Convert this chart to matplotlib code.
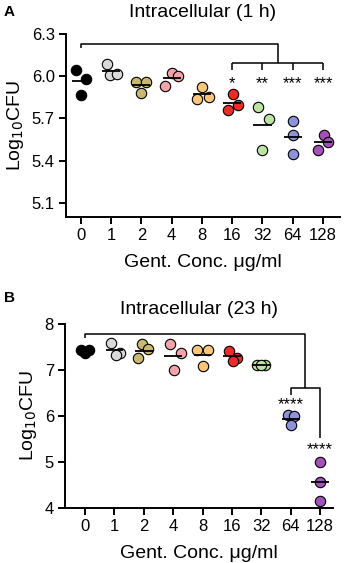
import matplotlib
matplotlib.use("Agg")
import matplotlib.pyplot as plt
import numpy as np

plt.rcParams['font.family'] = ['Liberation Sans', 'DejaVu Sans']

categories = ["0", "1", "2", "4", "8", "16", "32", "64", "128"]
colors = ["#000000", "#d9d9d9", "#c9b872", "#f4a3ab", "#fbc57a",
          "#ee2b2b", "#bce3a2", "#8e92d9", "#a352b8"]

# Panel A: Intracellular (1 h), Log10 CFU, triplicates
a_vals = [
    [6.043, 5.979, 5.867],
    [6.085, 6.007, 6.019],
    [5.962, 5.962, 5.884],
    [6.023, 6.002, 5.931],
    [5.920, 5.839, 5.856],
    [5.877, 5.794, 5.758],
    [5.782, 5.699, 5.474],
    [5.682, 5.580, 5.450],
    [5.585, 5.533, 5.479],
]
a_stars = ["*", "**", "***", "***"]

# Panel B: Intracellular (23 h)
b_vals = [
    [7.42, 7.42, 7.36],
    [7.574, 7.370, 7.320],
    [7.559, 7.443, 7.248],
    [7.559, 7.357, 6.993],
    [7.428, 7.428, 7.087],
    [7.413, 7.261, 7.189],
    [7.10, 7.10, 7.10],
    [6.015, 5.993, 5.798],
    [5.00, 4.55, 4.15],
]
b_stars = ["****", "****"]

# horizontal jitter of dots within each column (layout only)
a_jit = [[-0.16, 0.17, 0.0], [-0.12, -0.05, 0.18], [-0.17, 0.14, 0.0],
         [0.02, 0.2, -0.23], [0.0, -0.15, 0.22], [0.02, 0.18, -0.13],
         [-0.16, 0.2, 0.0], [0.0, 0.0, 0.0], [0.02, 0.18, -0.18]]
b_jit = [[-0.13, 0.13, 0.0], [-0.1, 0.18, 0.06], [-0.06, 0.14, -0.2],
         [-0.12, 0.27, 0.04], [-0.2, 0.2, 0.0], [-0.1, 0.17, 0.02],
         [-0.13, 0.13, 0.0], [-0.1, 0.12, 0.02], [0.0, 0.0, 0.0]]

W, H = 344, 563
fig = plt.figure(figsize=(W / 100, H / 100), dpi=100)


def px_ax(l, r, t, b):
    return fig.add_axes([l / W, 1 - b / H, (r - l) / W, (b - t) / H])


def draw(ax, vals, jit):
    x = np.arange(len(vals))
    for i, (v, j) in enumerate(zip(vals, jit)):
        ax.scatter(i + np.array(j), v, s=56, c=colors[i], edgecolors="black",
                   linewidths=0.8, zorder=3, clip_on=False)
        m = np.mean(v)
        ax.plot([i - 0.3, i + 0.3], [m, m], color="black", lw=1.3, zorder=4,
                solid_capstyle="butt")
    ax.set_xticks(x)
    ax.set_xticklabels(categories)
    for s in ["top", "right"]:
        ax.spines[s].set_visible(False)
    for s in ["left", "bottom"]:
        ax.spines[s].set_linewidth(1.4)
    ax.tick_params(axis="both", width=1.4, length=5, labelsize=12, pad=3,
                   direction="out")
    ax.set_xlabel("Gent. Conc. μg/ml", fontsize=14, labelpad=8)
    ax.set_ylabel("Log$_{10}$CFU", fontsize=14, labelpad=4)


lw_b = 1.1
# ---- Panel A
axA = px_ax(66, 340, 34, 217)
draw(axA, a_vals, a_jit)
axA.set_xlim(-0.49, 8.56)
axA.set_ylim(5.0, 6.3)
axA.set_yticks([5.1, 5.4, 5.7, 6.0, 6.3])
axA.set_yticklabels(["5.1", "5.4", "5.7", "6.0", "6.3"])
axA.spines["left"].set_bounds(5.0, 6.3)
axA.set_title("Intracellular (1 h)", fontsize=14, pad=12)
kw = dict(color="black", lw=lw_b, clip_on=False, solid_capstyle="butt")
axA.plot([0, 0, 6.5, 6.5], [6.197, 6.232, 6.232, 6.097], **kw)
axA.plot([5, 8], [6.097, 6.097], **kw)
for k, s in zip(range(5, 9), a_stars):
    axA.text(k, 5.945, s, ha="center", va="center", fontsize=12)
    axA.plot([k, k], [6.097, 6.043], **kw)
fig.text(4 / W, 1 - 12 / H, "A", fontsize=11, fontweight="bold",
         ha="left", va="center")

# ---- Panel B
axB = px_ax(65, 333, 323.7, 507.7)
draw(axB, b_vals, b_jit)
axB.set_xlim(-0.68, 8.44)
axB.set_ylim(4, 8)
axB.set_yticks([4, 5, 6, 7, 8])
axB.set_title("Intracellular (23 h)", fontsize=14, pad=7)
axB.plot([0, 0, 7.5, 7.5], [7.683, 7.776, 7.776, 6.596], **kw)
axB.plot([7, 7, 8, 8], [6.45, 6.596, 6.596, 5.509], **kw)
axB.text(7, 6.24, b_stars[0], ha="center", va="center", fontsize=12)
axB.text(8, 5.26, b_stars[1], ha="center", va="center", fontsize=12)
fig.text(4 / W, 1 - 298 / H, "B", fontsize=11, fontweight="bold",
         ha="left", va="center")

fig.savefig("out.png", dpi=100)
